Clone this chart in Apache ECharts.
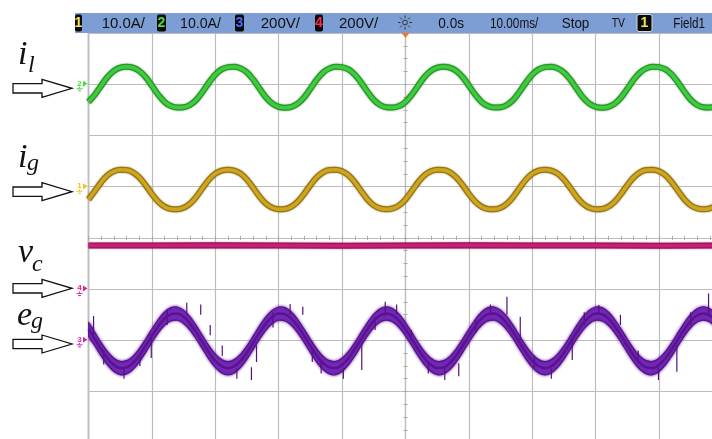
<!DOCTYPE html>
<html>
<head>
<meta charset="utf-8">
<script src="https://cdn.jsdelivr.net/npm/echarts@6/dist/echarts.min.js"></script>
<style>
  html, body { margin: 0; padding: 0; background: #ffffff; overflow: hidden; }
  /* the graticule runs a little past the right and bottom edges of the window */
  #scope { width: 726px; height: 446px; }
</style>
</head>
<body>
<div id="scope"></div>
<script>
// Acquisition time base (ms), 1 ms per sample, 10 ms/div, trigger at 0
const timeMs = [
  -50,-49,-48,-47,-46,-45,-44,-43,-42,-41,-40,-39,-38,-37,-36,-35,-34,-33,-32,-31,
  -30,-29,-28,-27,-26,-25,-24,-23,-22,-21,-20,-19,-18,-17,-16,-15,-14,-13,-12,-11,
  -10,-9,-8,-7,-6,-5,-4,-3,-2,-1,
  0,1,2,3,4,5,6,7,8,9,10,11,12,13,14,15,16,17,18,19,
  20,21,22,23,24,25,26,27,28,29,30,31,32,33,34,35,36,37,38,39,
  40,41,42,43,44,45,46,47,48,49,50
];

// Channel 2: load current i_l (A)
const ilAmps = [
  -3.44,-2.04,-0.27,1.43,2.63,3.26,3.43,3.26,2.63,1.43,
  -0.27,-2.04,-3.44,-4.25,-4.55,-4.49,-4.04,-3.04,-1.47,0.33,
  1.90,2.90,3.35,3.41,3.11,2.30,0.90,-0.87,-2.57,-3.77,
  -4.40,-4.57,-4.40,-3.77,-2.57,-0.87,0.90,2.30,3.11,3.41,
  3.35,2.90,1.90,0.33,-1.47,-3.04,-4.04,-4.49,-4.55,-4.25,
  -3.44,-2.04,-0.27,1.43,2.63,3.26,3.43,3.26,2.63,1.43,
  -0.27,-2.04,-3.44,-4.25,-4.55,-4.49,-4.04,-3.04,-1.47,0.33,
  1.90,2.90,3.35,3.41,3.11,2.30,0.90,-0.87,-2.57,-3.77,
  -4.40,-4.57,-4.40,-3.77,-2.57,-0.87,0.90,2.30,3.11,3.41,
  3.35,2.90,1.90,0.33,-1.47,-3.04,-4.04,-4.49,-4.55,-4.25,
  -3.44
];

// Channel 1: grid current i_g (A)
const igAmps = [
  -2.48,-0.84,0.87,2.23,3.01,3.30,3.25,2.81,1.83,0.32,
  -1.42,-2.93,-3.91,-4.35,-4.40,-4.11,-3.33,-1.97,-0.26,1.38,
  2.55,3.15,3.32,3.15,2.55,1.38,-0.26,-1.97,-3.33,-4.11,
  -4.40,-4.35,-3.91,-2.93,-1.42,0.32,1.83,2.81,3.25,3.30,
  3.01,2.23,0.87,-0.84,-2.48,-3.65,-4.25,-4.42,-4.25,-3.65,
  -2.48,-0.84,0.87,2.23,3.01,3.30,3.25,2.81,1.83,0.32,
  -1.42,-2.93,-3.91,-4.35,-4.40,-4.11,-3.33,-1.97,-0.26,1.38,
  2.55,3.15,3.32,3.15,2.55,1.38,-0.26,-1.97,-3.33,-4.11,
  -4.40,-4.35,-3.91,-2.93,-1.42,0.32,1.83,2.81,3.25,3.30,
  3.01,2.23,0.87,-0.84,-2.48,-3.65,-4.25,-4.42,-4.25,-3.65,
  -2.48
];

// Channel 3: grid voltage e_g (V)
const egVolts = [
  43.6,4.7,-35.1,-70.2,-95.8,-108.2,-105.6,-88.6,-59.3,-22.0,
  18.0,55.3,84.6,101.6,104.2,91.8,66.2,31.1,-8.7,-47.6,
  -80.0,-101.5,-109.0,-101.5,-80.0,-47.6,-8.7,31.1,66.2,91.8,
  104.2,101.6,84.6,55.3,18.0,-22.0,-59.3,-88.6,-105.6,-108.2,
  -95.8,-70.2,-35.1,4.7,43.6,76.0,97.5,105.0,97.5,76.0,
  43.6,4.7,-35.1,-70.2,-95.8,-108.2,-105.6,-88.6,-59.3,-22.0,
  18.0,55.3,84.6,101.6,104.2,91.8,66.2,31.1,-8.7,-47.6,
  -80.0,-101.5,-109.0,-101.5,-80.0,-47.6,-8.7,31.1,66.2,91.8,
  104.2,101.6,84.6,55.3,18.0,-22.0,-59.3,-88.6,-105.6,-108.2,
  -95.8,-70.2,-35.1,4.7,43.6,76.0,97.5,105.0,97.5,76.0,
  43.6
];

// Switching spikes riding on e_g: [time ms, from V, to V]
const egSpikes = [
  [-49.2, 20, 95], [-47.6, -40, -95], [-44.4, -110, -150], [-41.9, -60, -100], [-40.1, 25, -69],
  [-37.6, 60, 120], [-34.5, 100, 147], [-32.3, 100, 140], [-30.8, 60, 20], [-28.9, -20, -60],
  [-26.6, -110, -150], [-24.3, -105, -155], [-23.5, -20, -85], [-20.9, 50, 110],
  [-18.2, 100, 142], [-16.2, 100, 131], [-14.7, -35, -85], [-13.3, -80, -130], [-9.8, -110, -150],
  [-6.9, -10, -116], [-4.8, 40, 90], [-3.2, 95, 151], [-1.4, 100, 140], [0.9, 40, 0],
  [3.6, -80, -130], [6.2, -105, -155], [8.4, -90, -140], [11.1, 30, 80], [13.4, 100, 140],
  [16.0, 100, 170], [18.1, 0, 92], [20.3, -60, -110], [23.0, -110, -150], [26.3, 0, -77],
  [28.2, 60, 110], [30.5, 104, 138], [33.9, 60, 100], [36.7, -40, -90],
  [39.9, -105, -155], [42.8, -20, -123], [45.0, 60, 110], [47.8, 100, 183]
];

// Channel 4: capacitor voltage v_c (V), flat DC level
const vcTime = [-50, -40, -30, -20, -10, 0, 10, 20, 30, 40, 50];
const vcVolts = [170, 170, 171, 170, 169, 170, 171, 170, 170, 169, 170];

// Vertical settings per channel: units per division, reference level (divisions above centre)
const ch = {
  il: { perDiv: 10, ref: 3, color: '#3ddc3d', tag: '2' },
  ig: { perDiv: 10, ref: 1, color: '#f0c020', tag: '1' },
  vc: { perDiv: 200, ref: -1, color: '#e8208c', tag: '4' },
  eg: { perDiv: 200, ref: -2, color: '#d22cb4', tag: '3' }
};

// Status bar contents
const statusTexts = [
  ['10.0A/', 101.7, 145], ['10.0A/', 180, 221], ['200V/', 260.7, 300], ['200V/', 339, 378.3],
  ['0.0s', 438.3, 464], ['10.00ms/', 490, 538.3], ['Stop', 561.7, 589.3], ['TV', 611.7, 625],
  ['Field1', 673.3, 705]
];
const statusBoxes = [
  ['1', 75, 82, '#f2e64a'], ['2', 157, 166, '#44e044'], ['3', 235, 244, '#4a6cff'],
  ['4', 315, 323, '#ff2a55'], ['1', 637, 652, '#f2e64a']
];

const EG_NOISE = 26;           // half-height of the e_g noise band (V)
// 10 x 8 division graticule
const GRID = { left: 88.5, top: 33.1, divW: 63.4, divH: 51.2 };

const zip = (xs, ys) => xs.map((x, i) => [x, ys[i]]);
const range = c => ({ min: (-4 - c.ref) * c.perDiv, max: (4 - c.ref) * c.perDiv });

const chart = echarts.init(document.getElementById('scope'), null, { renderer: 'canvas' });

const gridGray = '#bdbdbd';
const tickGray = '#a8a8a8';
const hiddenY = c => Object.assign({ type: 'value', show: false, gridIndex: 0 }, range(c));

chart.setOption({
  animation: false,
  backgroundColor: '#ffffff',
  grid: {
    left: GRID.left, top: GRID.top, width: GRID.divW * 10, height: GRID.divH * 8,
    outerBoundsMode: 'none',
    show: true, backgroundColor: '#ffffff', borderColor: '#9d9d9d', borderWidth: 1.5
  },
  xAxis: [
    {
      type: 'value', min: -50, max: 50, interval: 10,
      axisLine: { show: true, onZero: true, onZeroAxisIndex: 0, lineStyle: { color: gridGray, width: 1.2 } },
      axisTick: { show: true, length: 2, lineStyle: { color: tickGray } },
      minorTick: { show: true, splitNumber: 5, length: 2, lineStyle: { color: tickGray } },
      axisLabel: { show: false },
      splitLine: { show: true, lineStyle: { color: gridGray, width: 1.2 } }
    },
    {
      type: 'value', min: -50, max: 50, interval: 10, position: 'top',
      axisLine: { show: false, onZero: true, onZeroAxisIndex: 0 },
      axisTick: { show: true, length: 2, lineStyle: { color: tickGray } },
      minorTick: { show: true, splitNumber: 5, length: 2, lineStyle: { color: tickGray } },
      axisLabel: { show: false }, splitLine: { show: false }
    }
  ],
  yAxis: [
    {
      type: 'value', min: -4, max: 4, interval: 1,
      axisLine: { show: true, onZero: true, onZeroAxisIndex: 0, lineStyle: { color: gridGray, width: 1.2 } },
      axisTick: { show: true, length: 2, lineStyle: { color: tickGray } },
      minorTick: { show: true, splitNumber: 4, length: 2, lineStyle: { color: tickGray } },
      axisLabel: { show: false },
      splitLine: { show: true, lineStyle: { color: gridGray, width: 1.2 } }
    },
    hiddenY(ch.il),
    hiddenY(ch.ig),
    hiddenY(ch.vc),
    hiddenY(ch.eg),
    {
      type: 'value', min: -4, max: 4, interval: 1, position: 'right',
      axisLine: { show: false, onZero: true, onZeroAxisIndex: 0 },
      axisTick: { show: true, length: 2, lineStyle: { color: tickGray } },
      minorTick: { show: true, splitNumber: 4, length: 2, lineStyle: { color: tickGray } },
      axisLabel: { show: false }, splitLine: { show: false }
    }
  ],
  series: [
    // i_l : dark noise edge + bright trace
    { type: 'line', xAxisIndex: 0, yAxisIndex: 1, data: zip(timeMs, ilAmps), showSymbol: false, smooth: 0.4, silent: true,
      lineStyle: { color: '#2a962a', width: 6, shadowColor: 'rgba(20,110,20,0.7)', shadowBlur: 2 } },
    { type: 'line', xAxisIndex: 0, yAxisIndex: 1, data: zip(timeMs, ilAmps), showSymbol: false, smooth: 0.4, silent: true,
      lineStyle: { color: '#3ccc3c', width: 3.5 } },
    // i_g
    { type: 'line', xAxisIndex: 0, yAxisIndex: 2, data: zip(timeMs, igAmps), showSymbol: false, smooth: 0.4, silent: true,
      lineStyle: { color: '#957614', width: 6, shadowColor: 'rgba(120,95,10,0.7)', shadowBlur: 2 } },
    { type: 'line', xAxisIndex: 0, yAxisIndex: 2, data: zip(timeMs, igAmps), showSymbol: false, smooth: 0.4, silent: true,
      lineStyle: { color: '#d0a51e', width: 3.5 } },
    // v_c
    { type: 'line', xAxisIndex: 0, yAxisIndex: 3, data: zip(vcTime, vcVolts), showSymbol: false, silent: true,
      lineStyle: { color: '#961456', width: 6, shadowColor: 'rgba(150,20,86,0.6)', shadowBlur: 2 } },
    { type: 'line', xAxisIndex: 0, yAxisIndex: 3, data: zip(vcTime, vcVolts), showSymbol: false, silent: true,
      lineStyle: { color: '#c81d78', width: 3.5 } },
    // e_g noise band
    { type: 'custom', xAxisIndex: 0, yAxisIndex: 4, silent: true, clip: true, data: [[0, 0]],
      renderItem: function (params, api) {
        const upper = [], lower = [];
        for (let i = 0; i < timeMs.length; i++) {
          upper.push(api.coord([timeMs[i], egVolts[i] + EG_NOISE]));
          lower.unshift(api.coord([timeMs[i], egVolts[i] - EG_NOISE]));
        }
        return { type: 'polygon', shape: { points: upper.concat(lower), smooth: 0.3 },
                 style: { fill: '#7428b8', stroke: '#55128a', lineWidth: 1.2,
                          shadowColor: 'rgba(90,20,140,0.8)', shadowBlur: 3 } };
      } },
    // e_g spikes
    { type: 'custom', xAxisIndex: 0, yAxisIndex: 4, silent: true, clip: true, data: egSpikes,
      encode: { x: 0, y: [1, 2] },
      renderItem: function (params, api) {
        const a = api.coord([api.value(0), api.value(1)]);
        const b = api.coord([api.value(0), api.value(2)]);
        return { type: 'line', shape: { x1: a[0], y1: a[1], x2: b[0], y2: b[1] },
                 style: { stroke: '#52127e', lineWidth: 1.2 } };
      } },
    // e_g mean trace
    { type: 'line', xAxisIndex: 0, yAxisIndex: 4, data: zip(timeMs, egVolts), showSymbol: false, smooth: 0.4, silent: true,
      lineStyle: { color: '#58148e', width: 2.5 } }
  ]
});

// ---- overlay: status bar, channel reference markers, annotations ----
const measure = document.createElement('canvas').getContext('2d');
const BAR_FONT = '15px "Liberation Sans", Arial, sans-serif';
const g = [];

g.push({ type: 'rect', shape: { x: 75, y: 13, width: 651, height: 20 }, style: { fill: '#7d9dd5' }, z: 100 });

statusTexts.forEach(([txt, x0, x1]) => {
  const font = txt === 'TV' ? '12px "Liberation Sans", Arial, sans-serif' : BAR_FONT;
  measure.font = font;
  const s = (x1 - x0) / measure.measureText(txt).width;
  g.push({ type: 'text', x: x0, y: 23.5, scaleX: s, z: 101,
    style: { text: txt, font: font, fill: '#111111', align: 'left', verticalAlign: 'middle' } });
});

statusBoxes.forEach(([d, x0, x1, col], i) => {
  const last = i === statusBoxes.length - 1;
  g.push({ type: 'rect', shape: { x: x0, y: 14.5, width: x1 - x0, height: 17, r: 2 }, z: 101,
    style: { fill: '#0a0a0a', stroke: last ? '#d8d8d8' : null, lineWidth: 1 } });
  g.push({ type: 'text', x: (x0 + x1) / 2, y: 23.5, z: 102,
    style: { text: d, font: 'bold 14px "Liberation Sans", Arial, sans-serif', fill: col, align: 'center', verticalAlign: 'middle' } });
});

// trigger-level icon
const sunX = 405, sunY = 22.5;
g.push({ type: 'circle', shape: { cx: sunX, cy: sunY, r: 2.4 }, style: { fill: null, stroke: '#333', lineWidth: 1 }, z: 101 });
for (let k = 0; k < 8; k++) {
  const a = k * Math.PI / 4;
  g.push({ type: 'line', z: 101, style: { stroke: '#333', lineWidth: 1 },
    shape: { x1: sunX + Math.cos(a) * 4.5, y1: sunY + Math.sin(a) * 4.5, x2: sunX + Math.cos(a) * 7, y2: sunY + Math.sin(a) * 7 } });
}

// trigger position marker
const trigX = chart.convertToPixel({ xAxisIndex: 0 }, 0);
g.push({ type: 'polygon', z: 101, shape: { points: [[trigX - 4, 33], [trigX + 4, 33], [trigX, 38]] }, style: { fill: '#f07a1c' } });

// channel ground reference markers on the left edge
[['il', 1], ['ig', 2], ['vc', 3], ['eg', 4]].forEach(([key, idx]) => {
  const c = ch[key];
  const y = chart.convertToPixel({ yAxisIndex: idx }, 0);
  g.push({ type: 'text', x: 79.5, y: y - 1, z: 50,
    style: { text: c.tag, font: 'bold 8px "Liberation Sans", Arial, sans-serif', fill: c.color, align: 'center', verticalAlign: 'middle' } });
  g.push({ type: 'polygon', z: 50, shape: { points: [[83, y - 3.5], [87.5, y - 0.5], [83, y + 2.5]] }, style: { fill: c.color } });
  g.push({ type: 'line', z: 50, shape: { x1: 79.5, y1: y + 2.5, x2: 79.5, y2: y + 4.5 }, style: { stroke: c.color, lineWidth: 1 } });
  g.push({ type: 'line', z: 50, shape: { x1: 76.5, y1: y + 4.5, x2: 82.5, y2: y + 4.5 }, style: { stroke: c.color, lineWidth: 1 } });
  g.push({ type: 'line', z: 50, shape: { x1: 78, y1: y + 6.5, x2: 81, y2: y + 6.5 }, style: { stroke: c.color, lineWidth: 1 } });
});

// hollow arrows pointing at each trace
[88.3, 191.7, 288.3, 344].forEach(cy => {
  g.push({ type: 'polygon', z: 60,
    shape: { points: [[13, cy - 4.7], [42, cy - 4.7], [42, cy - 9], [72, cy], [42, cy + 9], [42, cy + 4.7], [13, cy + 4.7]] },
    style: { fill: '#ffffff', stroke: '#111111', lineWidth: 1.3 } });
});

// signal names (italic serif with subscripts)
const SERIF = '"Liberation Serif", "Times New Roman", serif';
const names = [
  ['i', 'l', 18, 65, 28, 73],
  ['i', 'g', 18, 168, 27, 171],
  ['v', 'c', 18, 263, 32, 272],
  ['e', 'g', 17, 326, 31, 329]
];
names.forEach(([m, s, mx, my, sx, sy]) => {
  g.push({ type: 'text', x: mx, y: my - 10, z: 60,
    style: { text: m, font: 'italic 34px ' + SERIF, fill: '#111111', align: 'left', verticalAlign: 'middle' } });
  g.push({ type: 'text', x: sx, y: sy - 7, z: 60,
    style: { text: s, font: 'italic 24px ' + SERIF, fill: '#111111', align: 'left', verticalAlign: 'middle' } });
});

chart.setOption({ graphic: g });
</script>
</body>
</html>
